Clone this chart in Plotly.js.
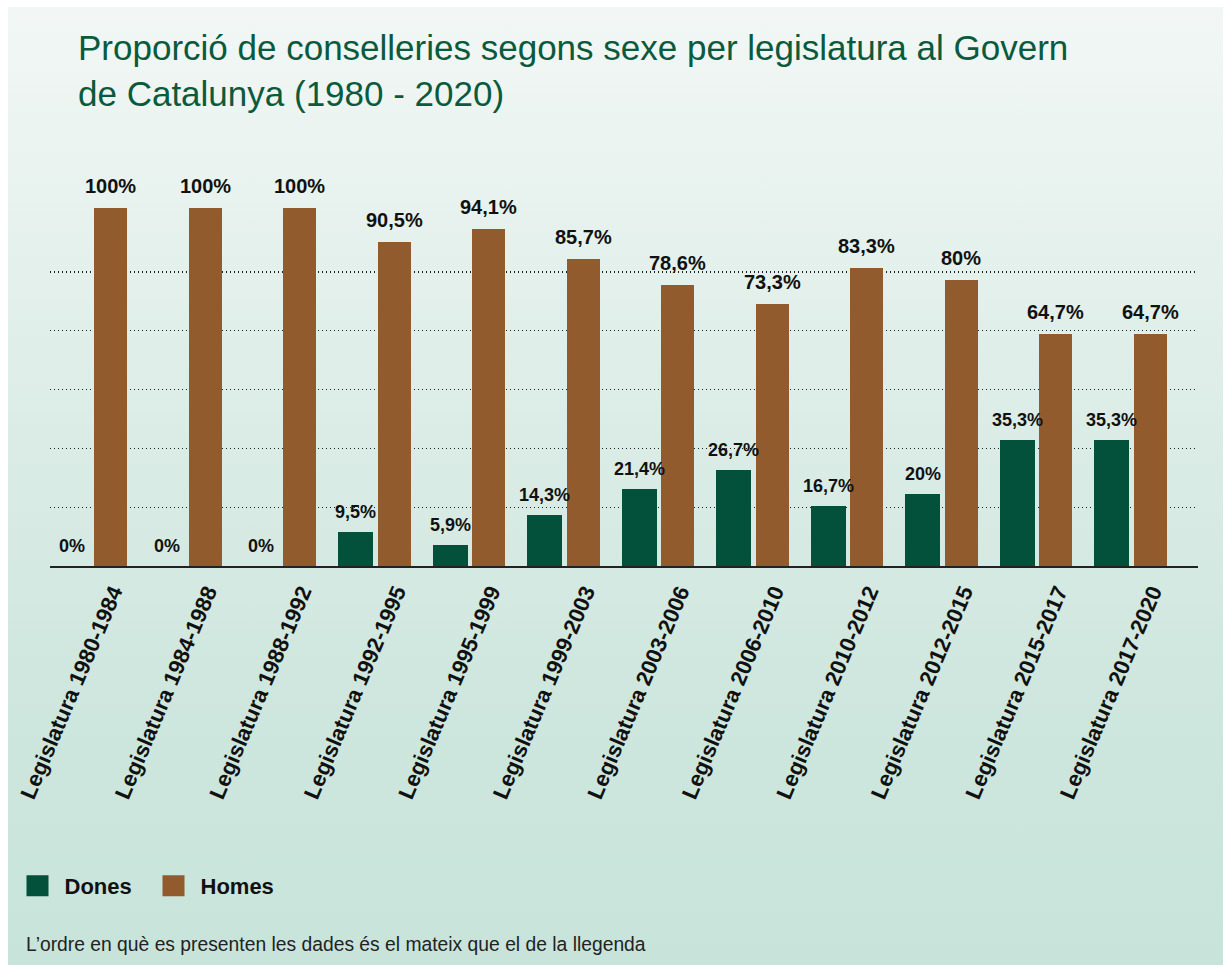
<!DOCTYPE html>
<html>
<head>
<meta charset="utf-8">
<script src="https://cdn.plot.ly/plotly-3.0.1.min.js"></script>
<style>
html,body{margin:0;padding:0;background:#ffffff;}
#wrap{position:relative;width:1226px;height:965px;overflow:hidden;}
#bg{position:absolute;left:8px;top:7px;width:1215px;height:958px;
 background:linear-gradient(to bottom,#f2f7f5 0%,#dbece6 45%,#cfe7de 70%,#c8e4da 100%);}
#chart{position:absolute;left:0;top:0;width:1226px;height:965px;}
</style>
</head>
<body>
<div id="wrap"><div id="bg"></div><div id="chart"></div></div>
<script>
const categories = ["Legislatura 1980-1984","Legislatura 1984-1988","Legislatura 1988-1992","Legislatura 1992-1995","Legislatura 1995-1999","Legislatura 1999-2003","Legislatura 2003-2006","Legislatura 2006-2010","Legislatura 2010-2012","Legislatura 2012-2015","Legislatura 2015-2017","Legislatura 2017-2020"];
const dones = [0,0,0,9.5,5.9,14.3,21.4,26.7,16.7,20,35.3,35.3];
const homes = [100,100,100,90.5,94.1,85.7,78.6,73.3,83.3,80,64.7,64.7];
const seriesNames = ["Dones","Homes"];
const gridVals = [16.4,32.85,49.25,65.7,82.1];

const cDones = "#03513a", cHomes = "#925b2e";
const fmt = v => String(v).replace('.', ',') + '%';

const DW = 0.37, DOFF = -0.395, HW = 0.35, HOFF = 0.025;

const traces = [
  {type:'bar', name:seriesNames[0], x:categories, y:dones, width:DW, offset:DOFF,
   marker:{color:cDones}, hoverinfo:'skip'},
  {type:'bar', name:seriesNames[1], x:categories, y:homes, width:HW, offset:HOFF,
   marker:{color:cHomes}, hoverinfo:'skip'}
];

const annotations = [];
categories.forEach((c,i)=>{
  annotations.push({x:i + DOFF + DW/2, y:dones[i], xref:'x', yref:'y', text:fmt(dones[i]),
    showarrow:false, yanchor:'bottom', yshift:8,
    font:{family:'"Liberation Sans", Arial, sans-serif', size:18, weight:700, color:'#111'}});
  annotations.push({x:i + HOFF + HW/2, y:homes[i], xref:'x', yref:'y', text:fmt(homes[i]),
    showarrow:false, yanchor:'bottom', yshift:9,
    font:{family:'"Liberation Sans", Arial, sans-serif', size:20, weight:700, color:'#111'}});
});
annotations.push({xref:'paper', yref:'paper', x:(24-50)/1148, y:(566-957)/412, xanchor:'left', yanchor:'bottom',
  text:"L\u2019ordre en què es presenten les dades és el mateix que el de la llegenda", showarrow:false,
  font:{family:'"Liberation Sans", Arial, sans-serif', size:19.3, color:'#222'}});

const layout = {
  width:1226, height:965,
  paper_bgcolor:'rgba(0,0,0,0)', plot_bgcolor:'rgba(0,0,0,0)',
  margin:{l:50, r:28, t:154, b:399, autoexpand:false},
  title:{text:"Proporció de conselleries segons sexe per legislatura al Govern<br>de Catalunya (1980 - 2020)",
    xref:'container', yref:'container', x:78/1226, xanchor:'left', y:1-60/965, yanchor:'top',
    font:{family:'"Liberation Sans", Arial, sans-serif', size:35, color:'#0b5a3d'}},
  font:{family:'"Liberation Sans", Arial, sans-serif'},
  showlegend:true,
  legend:{orientation:'h', x:(10.5-50)/1148, xanchor:'left', y:(566-886)/412, yanchor:'middle',
    font:{family:'"Liberation Sans", Arial, sans-serif', size:22, weight:700, color:'#111'},
    itemwidth:44, entrywidth:77, traceorder:'normal', bgcolor:'rgba(0,0,0,0)'},
  bargap:0, barmode:'group',
  xaxis:{type:'category', range:[-0.444, 11.705], showgrid:false, ticks:'', tickangle:-67,
    ticklabelshift:21, ticklabelstandoff:3, automargin:false,
    tickfont:{family:'"Liberation Sans", Arial, sans-serif', size:22, weight:700, color:'#111'},
    showline:true, linecolor:'#222', linewidth:1.5, zeroline:false, fixedrange:true},
  yaxis:{range:[0, 115.08], tickvals:gridVals, showticklabels:false, ticks:'', automargin:false,
    showgrid:true, gridcolor:'#222', griddash:'1px,3px', gridwidth:1.2, zeroline:false, showline:false, fixedrange:true},
  annotations:annotations
};

Plotly.newPlot('chart', traces, layout, {displayModeBar:false, staticPlot:true}).then(gd=>{
  // enlarge legend swatches to match the reference's squares
  gd.querySelectorAll('.legend .legendpoints path').forEach(p=>p.setAttribute('d','M11,10.5H-11V-10.5H11Z'));
});
</script>
</body>
</html>
